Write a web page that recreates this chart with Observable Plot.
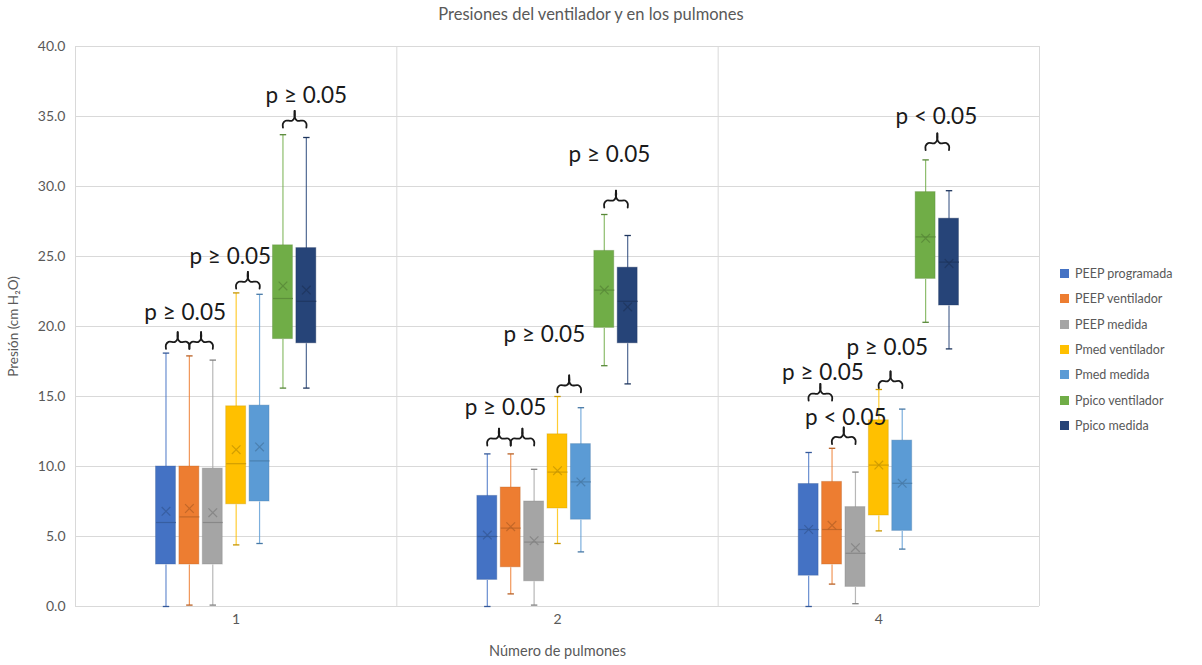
<!DOCTYPE html>
<html>
<head>
<meta charset="utf-8">
<script src="https://cdn.jsdelivr.net/npm/d3@7"></script>
<script src="https://cdn.jsdelivr.net/npm/@observablehq/plot@0.6"></script>
<style>
  html, body { margin: 0; padding: 0; background: #fff; }
  #wrap { position: relative; width: 1202px; height: 665px; font-family: Lato, "Open Sans", sans-serif; color: #595959; }
  #title { position: absolute; left: 0; top: 4px; width: 1182px; text-align: center; font-size: 16.5px; color: #595959; }
  #chart { position: absolute; left: 0; top: 30px; }
  #legend { position: absolute; left: 1060px; top: 261px; font-size: 12.5px; color: #595959; }
  .item { height: 25.3px; display: flex; align-items: center; white-space: nowrap; }
  .sw { width: 9px; height: 9px; margin-right: 6px; }
</style>
</head>
<body>
<div id="wrap">
  <div id="title">Presiones del ventilador y en los pulmones</div>
  <div id="chart"></div>
  <div id="legend"></div>
</div>
<script>
// ---- data ----
const groups = ["1", "2", "4"];
const series = ["PEEP programada", "PEEP ventilador", "PEEP medida", "Pmed ventilador", "Pmed medida", "Ppico ventilador", "Ppico medida"];
const colors = ["#4472C4", "#ED7D31", "#A5A5A5", "#FFC000", "#5B9BD5", "#70AD47", "#264478"];

// one row per group (1, 2, 4), one value per series
const whiskerLow = [
  [0.0, 0.1, 0.1, 4.4, 4.5, 15.6, 15.6],
  [0.0, 0.9, 0.1, 4.5, 3.9, 17.2, 15.9],
  [0.0, 1.6, 0.2, 5.4, 4.1, 20.3, 18.4]
];
const q1 = [
  [3.0, 3.0, 3.0, 7.3, 7.5, 19.1, 18.8],
  [1.9, 2.8, 1.8, 7.0, 6.2, 19.9, 18.8],
  [2.2, 3.0, 1.4, 6.5, 5.4, 23.4, 21.5]
];
const median = [
  [6.0, 6.4, 6.0, 10.2, 10.4, 22.0, 21.8],
  [5.0, 5.6, 4.6, 9.6, 8.9, 22.6, 21.8],
  [5.5, 5.5, 3.8, 10.1, 8.8, 26.4, 24.6]
];
const q3 = [
  [10.0, 10.0, 9.85, 14.3, 14.35, 25.8, 25.6],
  [7.9, 8.5, 7.5, 12.3, 11.6, 25.4, 24.2],
  [8.75, 8.9, 7.1, 13.3, 11.85, 29.6, 27.7]
];
const whiskerHigh = [
  [18.1, 17.9, 17.6, 22.4, 22.3, 33.7, 33.5],
  [10.9, 10.9, 9.8, 15.0, 14.2, 28.0, 26.5],
  [11.0, 11.3, 9.6, 15.5, 14.1, 31.9, 29.7]
];
const mean = [
  [6.8, 7.0, 6.7, 11.2, 11.4, 22.9, 22.6],
  [5.1, 5.7, 4.7, 9.7, 8.9, 22.6, 21.4],
  [5.5, 5.8, 4.2, 10.1, 8.8, 26.3, 24.5]
];

// significance braces (group index, from series, to series, level)
const braceGroup = [0, 0, 0, 0, 1, 1, 1, 1, 2, 2, 2, 2];
const braceFrom  = [0, 1, 3, 5, 0, 1, 3, 5, 0, 1, 3, 5];
const braceTo    = [1, 2, 4, 6, 1, 2, 4, 6, 1, 2, 4, 6];
const braceLevel = [18.9, 18.9, 23.2, 34.7, 12.0, 12.0, 15.8, 29.0, 15.2, 12.1, 16.1, 33.1];

// significance labels (group index, position in series units, level, text)
const labelGroup = [0, 0, 0, 1, 1, 1, 2, 2, 2, 2];
const labelPos   = [0.82, 2.75, 6.0, 0.78, 2.44, 5.22, 0.61, 1.59, 3.36, 5.46];
const labelLevel = [21.0, 25.0, 36.45, 14.2, 19.4, 32.3, 16.7, 13.5, 18.5, 35.0];
const labelText  = ["p ≥ 0.05", "p ≥ 0.05", "p ≥ 0.05", "p ≥ 0.05", "p ≥ 0.05", "p ≥ 0.05", "p ≥ 0.05", "p < 0.05", "p ≥ 0.05", "p < 0.05"];

const yTicks = [0, 5, 10, 15, 20, 25, 30, 35, 40];

// ---- layout helpers (in x-scale units: one unit per group) ----
const step = 0.0728, boxW = 0.062, capW = 0.01;
const pos = (g, s) => g + (s - 3) * step;

const rows = [];
groups.forEach((g, gi) => series.forEach((s, si) => rows.push({
  gi, si, x: pos(gi, si), color: colors[si],
  dark: d3.color(colors[si]).darker(0.7).formatHex(),
  low: whiskerLow[gi][si], q1: q1[gi][si], med: median[gi][si],
  q3: q3[gi][si], high: whiskerHigh[gi][si], mean: mean[gi][si]
})));

const bracePts = [];
braceGroup.forEach((g, i) => {
  const x1 = pos(g, braceFrom[i]), x2 = pos(g, braceTo[i]), xm = (x1 + x2) / 2, y = braceLevel[i];
  const hd = 0.5, hu = 0.7, r = 0.008;
  [[x1, y - hd], [x1, y - hd * 0.4], [x1 + r, y], [xm - r, y], [xm, y + hu * 0.35], [xm, y + hu],
   [xm, y + hu * 0.35], [xm + r, y], [x2 - r, y], [x2, y - hd * 0.4], [x2, y - hd]]
    .forEach(([x, yy], k) => bracePts.push({id: i, k, x, y: yy}));
});
// split each brace in two halves so the tip stays sharp
const braceLines = [];
bracePts.forEach(d => {
  if (d.k <= 5) braceLines.push({...d, seg: d.id * 2});
  if (d.k >= 5) braceLines.push({...d, seg: d.id * 2 + 1});
});

const labels = labelGroup.map((g, i) => ({x: pos(g, labelPos[i]), y: labelLevel[i], text: labelText[i]}));

const chart = Plot.plot({
  width: 1202,
  height: 635,
  marginLeft: 75,
  marginRight: 163,
  marginTop: 16,
  marginBottom: 59,
  style: {fontFamily: "Lato, 'Open Sans', sans-serif", fontSize: "14px", color: "#595959", background: "transparent"},
  x: {domain: [-0.5, 2.5]},
  y: {domain: [0, 40]},
  marks: [
    Plot.gridY(yTicks, {stroke: "#d9d9d9", strokeOpacity: 1}),
    Plot.ruleX([-0.5, 0.5, 1.5, 2.5], {stroke: "#d9d9d9", strokeOpacity: 1}),
    Plot.axisY(yTicks, {tickSize: 0, tickPadding: 10, tickFormat: d => d.toFixed(1), label: null, fontSize: 14}),
    Plot.axisX([0, 1, 2], {tickSize: 0, tickPadding: 8, tickFormat: i => groups[i], label: null, fontSize: 14}),
    Plot.text(["Número de pulmones"], {frameAnchor: "bottom", dy: 49, text: d => d, fontSize: 14.5, fill: "#595959"}),
    Plot.text(["Presión (cm H₂O)"], {frameAnchor: "left", textAnchor: "middle", dx: -62, rotate: -90, text: d => d, fontSize: 13.5, fill: "#595959"}),
    // whiskers
    Plot.link(rows, {x1: "x", x2: "x", y1: "low", y2: "q1", stroke: "color", strokeWidth: 1.2, strokeOpacity: 0.8}),
    Plot.link(rows, {x1: "x", x2: "x", y1: "q3", y2: "high", stroke: "color", strokeWidth: 1.2, strokeOpacity: 0.8}),
    Plot.link(rows, {x1: d => d.x - capW, x2: d => d.x + capW, y1: "low", y2: "low", stroke: "dark", strokeWidth: 1.3}),
    Plot.link(rows, {x1: d => d.x - capW, x2: d => d.x + capW, y1: "high", y2: "high", stroke: "dark", strokeWidth: 1.3}),
    // boxes
    Plot.rect(rows, {x1: d => d.x - boxW / 2, x2: d => d.x + boxW / 2, y1: "q1", y2: "q3", fill: "color", stroke: "dark", strokeOpacity: 0.35, strokeWidth: 1}),
    Plot.link(rows, {x1: d => d.x - boxW / 2, x2: d => d.x + boxW / 2, y1: "med", y2: "med", stroke: "dark", strokeWidth: 1.2, strokeOpacity: 0.8}),
    Plot.dot(rows, {x: "x", y: "mean", symbol: "times", r: 4, stroke: "dark", strokeWidth: 1.2, strokeOpacity: 0.8}),
    // braces and labels
    Plot.line(braceLines, {x: "x", y: "y", z: "seg", curve: "catmull-rom", stroke: "#1a1a1a", strokeWidth: 1.8}),
    Plot.text(labels, {x: "x", y: "y", text: "text", fontSize: 22.5, fill: "#1a1a1a"})
  ]
});
document.getElementById("chart").appendChild(chart);

const legend = document.getElementById("legend");
series.forEach((s, i) => {
  const it = document.createElement("div");
  it.className = "item";
  it.innerHTML = `<span class="sw" style="background:${colors[i]}"></span><span>${s}</span>`;
  legend.appendChild(it);
});
</script>
</body>
</html>
